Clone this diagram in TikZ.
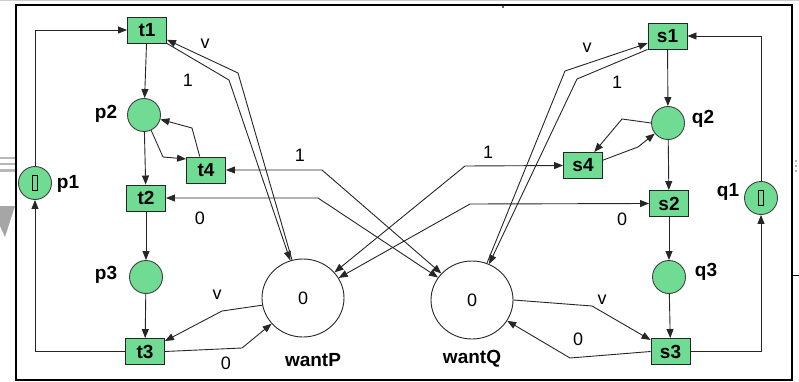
\documentclass[tikz,border=0pt]{standalone}
\usepackage{fontspec}
\setmainfont{Liberation Sans}
\usetikzlibrary{arrows.meta,shapes.geometric}
\definecolor{placegreen}{RGB}{112,219,147}

\tikzset{
  trans/.style={draw=black!85, fill=placegreen, line width=0.9pt, minimum width=39pt, minimum height=26pt, inner sep=0pt, font=\fontsize{19}{19}\selectfont\bfseries},
  place/.style={circle, draw=black!75, fill=placegreen, line width=0.9pt, minimum size=33pt, inner sep=0pt},
  shared/.style={ellipse, draw=black!85, fill=white, line width=0.9pt, minimum width=82pt, minimum height=78pt, inner sep=0pt, font=\fontsize{18}{18}\selectfont},
  token/.style={draw=black, line width=0.9pt, minimum width=5pt, minimum height=15pt, inner sep=0pt},
  nlabel/.style={font=\fontsize{19}{19}\selectfont\bfseries, inner sep=0pt},
  alabel/.style={font=\fontsize{18}{18}\selectfont, inner sep=0pt},
  arc/.style={draw=black!85, line width=0.9pt, -{Triangle[length=9pt,width=7pt]}},
  readarc/.style={draw=black!85, line width=0.9pt, {Triangle[length=9pt,width=7pt]}-{Triangle[length=9pt,width=7pt]}},
}

\begin{document}
\begin{tikzpicture}[x=1pt,y=-1pt]
\useasboundingbox (0,0) rectangle (799,382);

% window remnants around the frame
\fill[black!20] (0,0) rectangle (799,1.5);
\fill[black!28] (0,157) rectangle (15,159);
\fill[black!28] (0,163) rectangle (15,165);
\fill[black!28] (0,169) rectangle (15,172);
\fill[black!35] (0,206) -- (15,206) -- (5,237) -- (0,226) -- cycle;
\fill[black!30] (795,160) rectangle (797,162);
\fill[black!30] (795,165) rectangle (797,167);
\fill[black!30] (795,170) rectangle (797,172);
\fill[black!60] (502,6) rectangle (504,8);
\draw[black, line width=1pt] (792,275) -- (799,275);

% frame
\draw[black, line width=2pt] (16,5) rectangle (792,380);

% process P
\node[trans] (t1) at (147,30) {t1};
\node[place] (p2) at (144,115) {};
\node[trans] (t4) at (206,170) {t4};
\node[trans] (t2) at (146,198) {t2};
\node[place] (p3) at (146,277) {};
\node[trans] (t3) at (145,351.5) {t3};
\node[place] (p1) at (35,183) {};
\node[token] (k1) at (p1.center) {};

% process Q
\node[trans] (s1) at (667.5,36) {s1};
\node[place] (q2) at (668,123) {};
\node[trans] (s4) at (583,165.5) {s4};
\node[trans] (s2) at (669,203.5) {s2};
\node[place] (q3) at (669,277) {};
\node[trans] (s3) at (670.5,351.5) {s3};
\node[place] (q1) at (761,198) {};
\node[token] (k2) at (q1.center) {};

% shared flags
\node[shared] (wantP) at (303,298) {0};
\node[shared] (wantQ) at (472,300) {0};

% place names
\node[nlabel] (lp1) at (68,184) {p1};
\node[nlabel] (lp2) at (106,114) {p2};
\node[nlabel] (lp3) at (106,275) {p3};
\node[nlabel] (lq1) at (728,192) {q1};
\node[nlabel] (lq2) at (703,119) {q2};
\node[nlabel] (lq3) at (706,272) {q3};
\node[nlabel] (lwP) at (313,360) {wantP};
\node[nlabel] (lwQ) at (472,359) {wantQ};

% bend points
\coordinate (b1) at (163,157);
\coordinate (b2) at (192,128);
\coordinate (bPu) at (238,73);
\coordinate (bPl) at (229,80);
\coordinate (bT4) at (322,170);
\coordinate (bT2) at (318,198);
\coordinate (bT3a) at (222,311);
\coordinate (bT3b) at (242,348);
\coordinate (c1) at (622,119);
\coordinate (c2) at (638,147);
\coordinate (bQu) at (565,71);
\coordinate (bQl) at (577,79);
\coordinate (bS4) at (465,166);
\coordinate (bS2) at (470,204);
\coordinate (bS3a) at (592,306);
\coordinate (bS3b) at (570,358);

% cycle of P
\draw[arc] (p1.north) |- (t1.west);
\draw[arc] (t1) -- (p2);
\draw[arc] (p2) -- (t2);
\draw[arc] (t2) -- (p3);
\draw[arc] (p3) -- (t3);
\draw[arc] (t3.west) -| (p1.south);
\draw[arc] (p2.-65) -- (b1) -- (t4.151);
\draw[arc] (t4.115) -- (b2) -- (p2);

% cycle of Q
\draw[arc] (q1.north) |- (s1.east);
\draw[arc] (s1) -- (q2);
\draw[arc] (q2) -- (s2);
\draw[arc] (s2) -- (q3);
\draw[arc] (q3) -- (s3);
\draw[arc] (s3.east) -| (q1.south);
\draw[arc] (q2.west) -- (c1) -- (s4);
\draw[arc] (s4.15) -- (c2) -- (q2);

% arcs to and from wantP
\draw[arc] (wantP) -- (bPu) -- (t1.-26);
\draw[arc] (t1.south east) -- (bPl) -- (wantP);
\draw[arc] (wantP.190) -- (bT3a) -- (t3);
\draw[arc] (t3.east) -- (bT3b) -- (wantP);
\draw[readarc] (s4.west) -- (bS4) -- (wantP);
\draw[readarc] (s2.west) -- (bS2) -- (wantP);

% arcs to and from wantQ
\draw[arc] (wantQ) -- (bQu) -- (s1.200);
\draw[arc] (s1.south west) -- (bQl) -- (wantQ);
\draw[arc] (wantQ.0) -- (bS3a) -- (s3);
\draw[arc] (s3.west) -- (bS3b) -- (wantQ);
\draw[readarc] (t4.east) -- (bT4) -- (wantQ);
\draw[readarc] (t2.east) -- (bT2) -- (wantQ);

% arc weights
\node[alabel] (w1) at (205,44) {v};
\node[alabel] (w2) at (188,80) {1};
\node[alabel] (w3) at (300,155) {1};
\node[alabel] (w4) at (200,218) {0};
\node[alabel] (w5) at (217,295) {v};
\node[alabel] (w6) at (226,363) {0};
\node[alabel] (w7) at (587,48) {v};
\node[alabel] (w8) at (617,82) {1};
\node[alabel] (w9) at (488,152) {1};
\node[alabel] (w10) at (622,219) {0};
\node[alabel] (w11) at (602,300) {v};
\node[alabel] (w12) at (578,339) {0};
\end{tikzpicture}
\end{document}
